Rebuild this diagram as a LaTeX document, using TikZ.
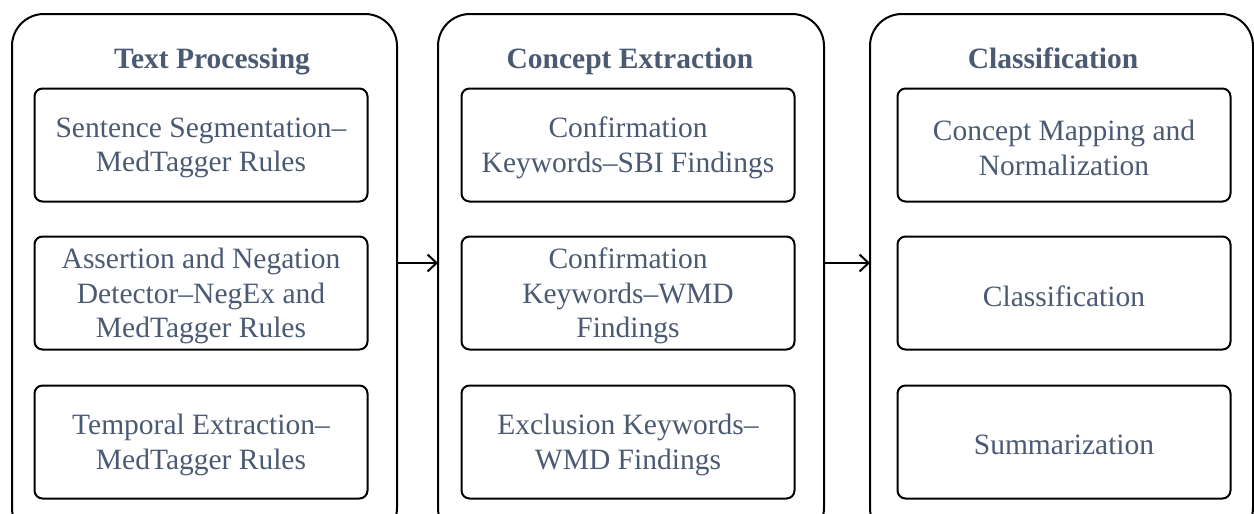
\documentclass[tikz,border=0pt]{standalone}
\usepackage{fontspec}
\setmainfont{Liberation Serif}
\usetikzlibrary{arrows.meta}
\definecolor{txt}{HTML}{4A5A72}
\tikzset{
  x=1pt, y=-1pt,
  stage/.style={draw=black, line width=2pt, rounded corners=32pt},
  item/.style={draw=black, line width=2pt, rounded corners=8pt, minimum width=333pt, minimum height=113pt,
    inner sep=0pt},
  itemtext/.style={align=center, text=txt, font=\fontsize{29.5}{34.5}\selectfont, inner sep=0pt, yshift=-3pt},
  title/.style={text=txt, font=\fontsize{29.5}{34}\selectfont\bfseries, anchor=base},
  flow/.style={line width=2pt, -{Straight Barb[length=9pt,width=17pt,line width=2pt]}}
}
\begin{document}
\begin{tikzpicture}
\useasboundingbox (0,0) rectangle (1254,514);
% stage frames
\draw[stage] (12,14) rectangle (397,540);
\draw[stage] (438,14) rectangle (824,540);
\draw[stage] (870,14) rectangle (1253,540);
\coordinate (s1r) at (397,263);
\coordinate (s2l) at (438,263);
\coordinate (s2r) at (824,263);
\coordinate (s3l) at (870,263);
% titles
\node[title] (t1) at (212,68) {Text Processing};
\node[title] (t2) at (630,68) {Concept Extraction};
\node[title] (t3) at (1053,68) {Classification};
% step boxes
\foreach \n/\x/\y in {a1/201/145, a2/201/293, a3/201/442,
                      b1/628/145, b2/628/293, b3/628/442,
                      c1/1064/145, c2/1064/293, c3/1064/442}
  \node[item] (\n) at (\x,\y) {};
% text processing steps
\node[itemtext] (a1t) at (a1) {Sentence Segmentation–\\MedTagger Rules};
\node[itemtext] (a2t) at (a2) {Assertion and Negation\\Detector–NegEx and\\MedTagger Rules};
\node[itemtext] (a3t) at (a3) {Temporal Extraction–\\MedTagger Rules};
% concept extraction steps
\node[itemtext] (b1t) at (b1) {Confirmation\\Keywords–SBI Findings};
\node[itemtext] (b2t) at (b2) {Confirmation\\Keywords–WMD\\Findings};
\node[itemtext] (b3t) at (b3) {Exclusion Keywords–\\WMD Findings};
% classification steps
\node[itemtext] (c1t) at (c1) {Concept Mapping and\\Normalization};
\node[itemtext] (c2t) at (c2) {Classification};
\node[itemtext] (c3t) at (c3) {Summarization};
% flow between stages
\draw[flow] (s1r) -- (s2l);
\draw[flow] (s2r) -- (s3l);
\end{tikzpicture}
\end{document}
